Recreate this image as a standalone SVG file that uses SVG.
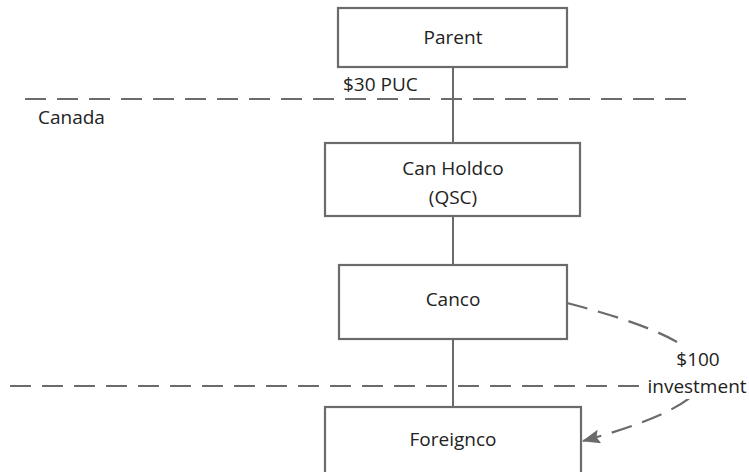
<svg xmlns="http://www.w3.org/2000/svg" width="749" height="472" viewBox="0 0 749 472">
<style>
.box{fill:#fff;stroke:#6b6b6b;stroke-width:2.2}
.ln{stroke:#6b6b6b;stroke-width:2;fill:none}
.dash{stroke:#6b6b6b;stroke-width:2.2;fill:none;stroke-dasharray:21 11}
text{font-family:"Open Sans","Noto Sans",sans-serif;font-size:19px;fill:#222}
.c{text-anchor:middle}
</style>
<defs>
<marker id="ah" viewBox="0 0 18 14" refX="17" refY="7" markerWidth="18" markerHeight="14" markerUnits="userSpaceOnUse" orient="auto">
<path d="M0,0 L18,7 L0,14 L3,7 Z" fill="#6b6b6b"/>
</marker>
</defs>
<rect width="749" height="472" fill="#fff"/>
<line class="dash" x1="25" y1="99" x2="690" y2="99"/>
<line class="dash" x1="10" y1="386" x2="643" y2="386"/>
<g id="connectors">
<line class="ln" x1="453" y1="67" x2="453" y2="143"/>
<line class="ln" x1="453" y1="216" x2="453" y2="265"/>
<line class="ln" x1="453" y1="339" x2="453" y2="407"/>
<path class="dash" d="M567,303 Q835.5,372 583,441" marker-end="url(#ah)"/>
</g>
<rect x="645" y="347" width="104" height="52" fill="#fff"/>
<g id="parent"><rect class="box" x="338" y="8" width="229" height="59"/><text class="c" x="453" y="44">Parent</text></g>
<g id="canholdco"><rect class="box" x="325" y="143" width="255" height="73"/><text class="c" x="453" y="175">Can Holdco</text><text class="c" x="453" y="204">(QSC)</text></g>
<g id="canco"><rect class="box" x="339" y="265" width="228" height="74"/><text class="c" x="453" y="306">Canco</text></g>
<g id="foreignco"><rect class="box" x="325" y="407" width="256" height="80"/><text class="c" x="453" y="446">Foreignco</text></g>
<text x="343" y="91">$30 PUC</text>
<text x="38" y="124">Canada</text>
<text class="c" x="698" y="366">$100</text>
<text class="c" x="697" y="393">investment</text>
</svg>
